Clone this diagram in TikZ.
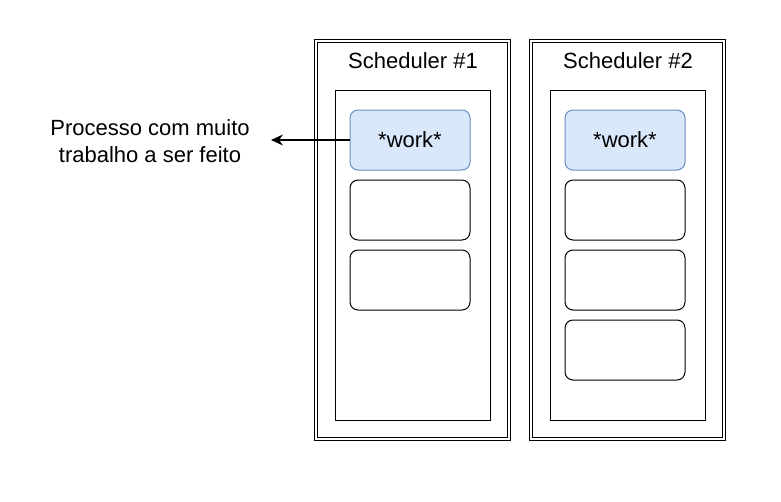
\documentclass[tikz,border=0pt]{standalone}
\usepackage{fontspec}
\setmainfont{Liberation Sans}
\usetikzlibrary{arrows.meta}
\definecolor{workfill}{HTML}{DAE8FC}
\definecolor{workdraw}{HTML}{6C8EBF}
\tikzset{
	sched/.style={draw, double, double distance=1.6pt, line width=0.9pt, minimum width=193pt, minimum height=398pt, inner sep=0pt},
	queue/.style={draw, line width=1pt, minimum width=155pt, minimum height=330pt, inner sep=0pt},
	proc/.style={draw, rounded corners=8pt, line width=1pt, minimum width=120pt, minimum height=60pt, font=\fontsize{22}{26}\selectfont},
	work/.style={proc, fill=workfill, draw=workdraw}
}
\begin{document}
\begin{tikzpicture}
	[x=1pt,y=-1pt]
	\useasboundingbox (0,0) rectangle (781,501);
	\node[sched] (s1) at (412.5,240) {};
	\node[sched] (s2) at (627.5,240) {};
	\node[font=\fontsize{22}{26}\selectfont] (t1) at (413,61) {Scheduler \#1};
	\node[font=\fontsize{22}{26}\selectfont] (t2) at (628,61) {Scheduler \#2};
	\node[queue] (q1) at (412.5,255) {};
	\node[queue] (q2) at (627.5,255) {};
	
	\node[work] (w1) at (410,140) {*work*};
	\node[proc] (p1) at (410,210) {};
	\node[proc] (p2) at (410,280) {};
	
	\node[work] (w2) at (625,140) {*work*};
	\node[proc] (p3) at (625,210) {};
	\node[proc] (p4) at (625,280) {};
	\node[proc] (p5) at (625,350) {};
	
	\node[align=center, font=\fontsize{22}{27}\selectfont] (txt) at (150,141) {Processo com muito\\trabalho a ser feito};
	\coordinate (tip) at (271,140);
	\draw[-{Stealth[length=12pt,width=11pt,inset=4pt]}, line width=1.2pt] (w1.west) -- (tip);
\end{tikzpicture}
\end{document}
